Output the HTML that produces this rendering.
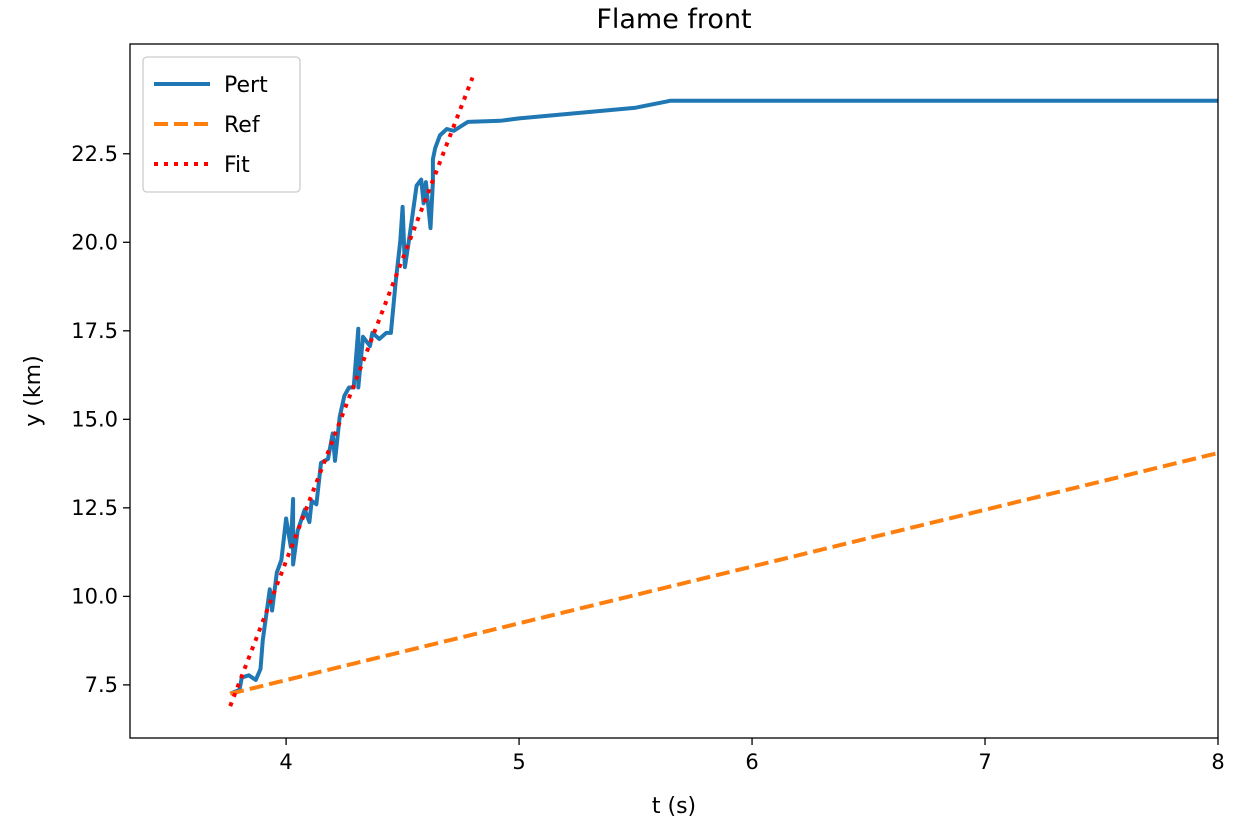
<!DOCTYPE html>
<html><head><meta charset="utf-8"><style>
body{margin:0;background:#fff}
svg text{font-family:"DejaVu Sans","Liberation Sans",sans-serif;fill:#000}
</style></head><body>
<svg id="chart" width="1250" height="827" viewBox="0 0 1250 827" xmlns="http://www.w3.org/2000/svg">
<text x="674" y="28" font-size="27" text-anchor="middle">Flame front</text>
<g id="plot"></g>
<rect x="130" y="44" width="1088" height="694" fill="none" stroke="#000" stroke-width="1.3"/>
<text x="674" y="813" font-size="22" text-anchor="middle">t (s)</text>
<text transform="translate(40,391) rotate(-90)" font-size="22" text-anchor="middle">y (km)</text>
<g>
<rect x="143" y="57" width="157" height="135" rx="4" fill="#fff" fill-opacity="0.8" stroke="#ccc" stroke-width="1.3"/>
<g><line x1="154" y1="84" x2="210" y2="84" stroke="#1f77b4" stroke-width="4"/><text x="224" y="92" font-size="22">Pert</text></g>
<g><line x1="154" y1="124" x2="210" y2="124" stroke="#ff7f0e" stroke-width="4" stroke-dasharray="14,6"/><text x="224" y="132" font-size="22">Ref</text></g>
<g><line x1="154" y1="164" x2="210" y2="164" stroke="#f00" stroke-width="4" stroke-dasharray="4,6"/><text x="224" y="172" font-size="22">Fit</text></g>
</g>
</svg>
<script>
const xTicks=[4,5,6,7,8];
const yTicks=[7.5,10.0,12.5,15.0,17.5,20.0,22.5];
const yTickLabels=["7.5","10.0","12.5","15.0","17.5","20.0","22.5"];
const pertT=[3.76,3.80,3.81,3.84,3.87,3.89,3.90,3.92,3.93,3.94,3.96,3.98,4.00,4.02,4.03,4.03,4.05,4.08,4.10,4.11,4.13,4.15,4.18,4.20,4.21,4.23,4.25,4.27,4.29,4.31,4.31,4.33,4.36,4.37,4.40,4.43,4.45,4.47,4.49,4.50,4.51,4.53,4.56,4.58,4.59,4.60,4.62,4.63,4.63,4.64,4.66,4.69,4.72,4.78,4.92,5.0,5.5,5.63,5.65,8.0];
const pertY=[7.25,7.36,7.71,7.77,7.64,7.95,8.77,9.73,10.2,9.6,10.67,11.03,12.2,11.4,12.75,10.9,11.86,12.45,12.1,12.7,12.6,13.77,13.88,14.6,13.83,15.07,15.66,15.9,15.9,17.56,15.9,17.33,17.07,17.44,17.27,17.44,17.44,18.86,20.04,21.0,19.3,20.18,21.6,21.77,21.1,21.7,20.4,21.7,22.35,22.66,23.02,23.2,23.15,23.4,23.43,23.5,23.8,23.97,24.0,24.0];
const refT=[3.76,8.0];
const refY=[7.25,14.05];
const fitT=[3.76,4.80];
const fitY=[6.9,24.65];

const X0=130,X1=1218,Y0=738,Y1=44,TMIN=3.33,TMAX=8.0,YMIN=6.0,YMAX=25.6;
const xs=t=>X0+(t-TMIN)/(TMAX-TMIN)*(X1-X0);
const ys=v=>Y0-(v-YMIN)/(YMAX-YMIN)*(Y0-Y1);
const NS="http://www.w3.org/2000/svg";
const g=document.getElementById('plot');
function mk(tag,attrs){const e=document.createElementNS(NS,tag);for(const k in attrs)e.setAttribute(k,attrs[k]);g.appendChild(e);return e;}
xTicks.forEach(t=>{
  const l=mk('line',{x1:xs(t),x2:xs(t),y1:Y0,y2:Y0+7,stroke:'#000','stroke-width':1.3});
  
  
  const tx=mk('text',{x:xs(t),y:Y0+31,'font-size':21,'text-anchor':'middle'});
  tx.textContent=String(t);
  
  
});
yTicks.forEach((v,i)=>{
  const l=mk('line',{x1:X0-7,x2:X0,y1:ys(v),y2:ys(v),stroke:'#000','stroke-width':1.3});
  
  
  const tx=mk('text',{x:X0-12,y:ys(v)+7,'font-size':21,'text-anchor':'end'});
  tx.textContent=yTickLabels[i];
  
  
});
function pts(T,Y){return T.map((t,i)=>xs(t).toFixed(1)+','+ys(Y[i]).toFixed(1)).join(' ');}
const defs=document.createElementNS(NS,'defs');
const cp=document.createElementNS(NS,'clipPath');cp.setAttribute('id','clip');
const cr=document.createElementNS(NS,'rect');cr.setAttribute('x',X0);cr.setAttribute('y',Y1);cr.setAttribute('width',X1-X0);cr.setAttribute('height',Y0-Y1);
cp.appendChild(cr);defs.appendChild(cp);g.appendChild(defs);
const p1=mk('polyline',{points:pts(pertT,pertY),fill:'none',stroke:'#1f77b4','stroke-width':4,'stroke-linejoin':'round','clip-path':'url(#clip)'});


const p2=mk('polyline',{points:pts(refT,refY),fill:'none',stroke:'#ff7f0e','stroke-width':4,'stroke-dasharray':'14,6','clip-path':'url(#clip)'});


const p3=mk('polyline',{points:pts(fitT,fitY),fill:'none',stroke:'#f00','stroke-width':4,'stroke-dasharray':'4,6'});


</script>
</body></html>
